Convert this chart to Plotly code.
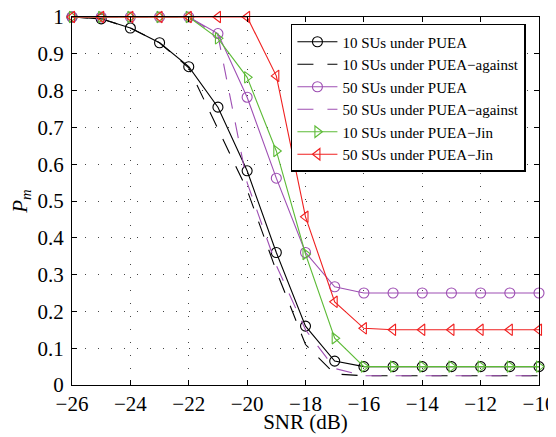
import plotly.graph_objects as go

snr = [-26, -25, -24, -23, -22, -21, -20, -19, -18, -17, -16, -15, -14, -13, -12, -11, -10]

pm_10_puea = [1, 0.995, 0.97, 0.93, 0.865, 0.755, 0.582, 0.36, 0.16, 0.065, 0.05, 0.05, 0.05, 0.05, 0.05, 0.05, 0.05]
pm_10_against = [1, 0.995, 0.97, 0.93, 0.862, 0.695, 0.53, 0.31, 0.11, 0.03, 0.025, 0.025, 0.025, 0.025, 0.025, 0.025, 0.025]
pm_50_puea = [1, 1, 1, 1, 1, 0.955, 0.782, 0.562, 0.36, 0.267, 0.25, 0.25, 0.25, 0.25, 0.25, 0.25, 0.25]
pm_50_against = [1, 1, 1, 1, 1, 0.95, 0.55, 0.325, 0.15, 0.045, 0.025, 0.025, 0.025, 0.025, 0.025, 0.025, 0.025]
pm_10_jin = [1, 1, 1, 1, 1, 0.942, 0.836, 0.636, 0.356, 0.127, 0.05, 0.05, 0.05, 0.05, 0.05, 0.05, 0.05]
pm_50_jin = [1, 1, 1, 1, 1, 1, 1, 0.84, 0.457, 0.226, 0.154, 0.15, 0.15, 0.15, 0.15, 0.15, 0.15]

names = ["10 SUs under PUEA", "10 SUs under PUEA\u2212against", "50 SUs under PUEA",
         "50 SUs under PUEA\u2212against", "10 SUs under PUEA\u2212Jin", "50 SUs under PUEA\u2212Jin"]

x_ticks = [-26, -24, -22, -20, -18, -16, -14, -12, -10]
y_ticks = [0, 0.1, 0.2, 0.3, 0.4, 0.5, 0.6, 0.7, 0.8, 0.9, 1]
y_tick_labels = ["0", "0.1", "0.2", "0.3", "0.4", "0.5", "0.6", "0.7", "0.8", "0.9", "1"]

BLACK = "#000000"
PURPLE = "#9E4FB3"
GREEN = "#5DBB37"
RED = "#F02020"

series = [
    (pm_10_puea, BLACK, "solid", "circle-open"),
    (pm_10_against, BLACK, "16px,14px", None),
    (pm_50_puea, PURPLE, "solid", "circle-open"),
    (pm_50_against, PURPLE, "16px,14px", None),
    (pm_10_jin, GREEN, "solid", "triangle-right-open"),
    (pm_50_jin, RED, "solid", "triangle-left-open"),
]

fig = go.Figure()
for (vals, col, dash, sym), nm in zip(series, names):
    if sym:
        fig.add_trace(go.Scatter(
            x=snr, y=vals, name=nm, mode="lines+markers",
            line=dict(color=col, width=1.1, dash=dash),
            marker=dict(symbol=sym, size=10, color=col, line=dict(color=col, width=1.1)),
            cliponaxis=False))
    else:
        fig.add_trace(go.Scatter(
            x=snr, y=vals, name=nm, mode="lines",
            line=dict(color=col, width=1.1, dash=dash),
            cliponaxis=False))

font_family = "Liberation Serif, Times New Roman, serif"

# page body has an 8px margin: figure is sized/offset so the plot box lands at
# x 72..539, y 17..385 in the window
fig.update_layout(
    template="none",
    width=548, height=426,
    margin=dict(l=64, r=17, t=9, b=49, autoexpand=False),
    paper_bgcolor="white", plot_bgcolor="white",
    font=dict(family=font_family, size=21, color="black"),
    showlegend=True,
    legend=dict(
        x=0.972, y=0.981, xanchor="right", yanchor="top",
        bgcolor="white", bordercolor="black", borderwidth=1.5,
        font=dict(family=font_family, size=15, color="black"),
        tracegroupgap=0, itemwidth=40,
    ),
    xaxis=dict(
        range=[-26, -10], tickmode="array", tickvals=x_ticks,
        ticktext=["\u2212%d" % abs(v) for v in x_ticks],
        showline=True, linecolor="black", linewidth=1, mirror="ticks",
        ticks="inside", ticklen=5, tickcolor="black", ticklabelstandoff=0,
        ticklabeloverflow="allow",
        showgrid=True, gridcolor="#444444", gridwidth=1, griddash="1px,12px",
        zeroline=False, automargin=False,
        title=dict(text="SNR (dB)", font=dict(size=21), standoff=2),
    ),
    yaxis=dict(
        range=[0, 1], tickmode="array", tickvals=y_ticks, ticktext=y_tick_labels,
        showline=True, linecolor="black", linewidth=1, mirror="ticks",
        ticks="inside", ticklen=5, tickcolor="black", ticklabelstandoff=3,
        ticklabeloverflow="allow",
        showgrid=True, gridcolor="#444444", gridwidth=1, griddash="1px,12px",
        zeroline=False, automargin=False,
        title=dict(text="<i>P</i><sub><i>m</i></sub>", font=dict(size=21), standoff=12),
    ),
)

fig.write_html("out.html")
